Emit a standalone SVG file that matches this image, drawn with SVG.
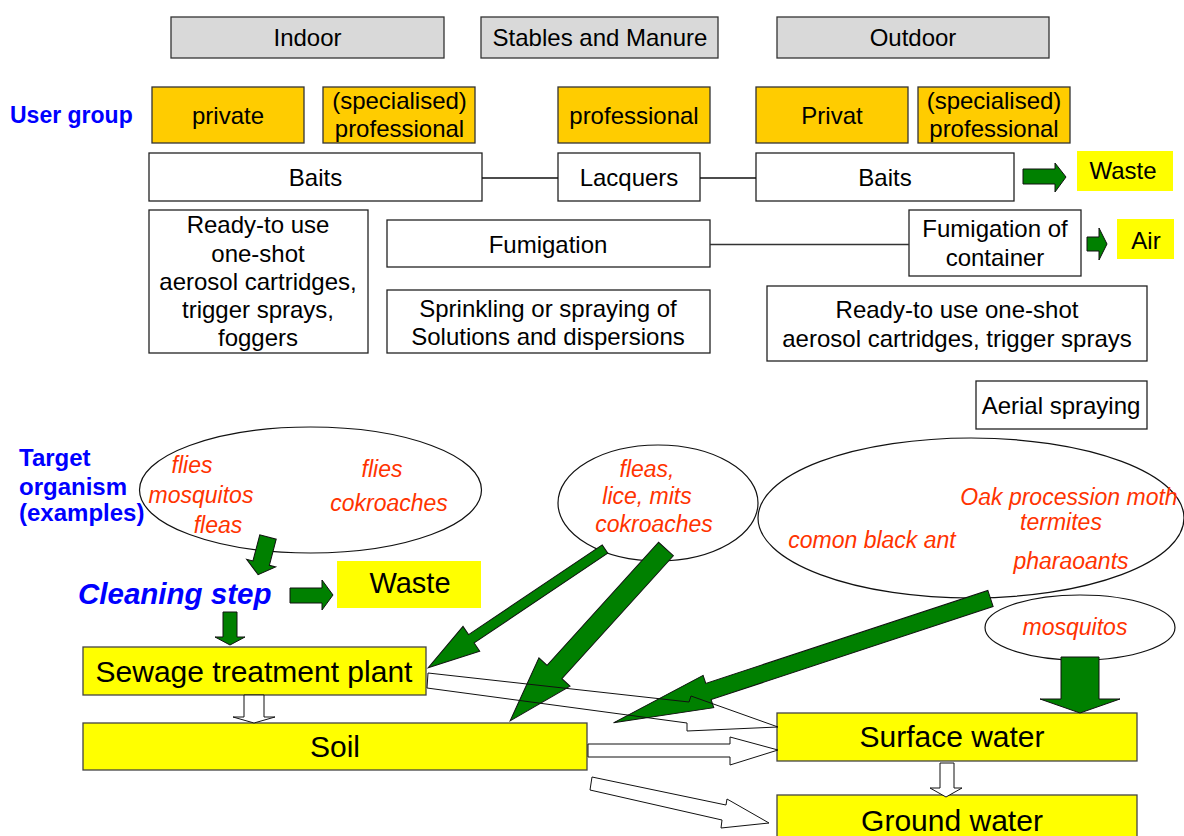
<svg xmlns="http://www.w3.org/2000/svg" width="1184" height="836" viewBox="0 0 1184 836">
<style>
text{font-family:"Liberation Sans",Arial,sans-serif;fill:#000}
.t24{font-size:24px;text-anchor:middle}
.t30{font-size:30px;text-anchor:middle}
.red{font-size:23px;font-style:italic;fill:#ff3300;text-anchor:middle}
.blue{font-size:23px;font-weight:bold;fill:#0000ff}
.gray{fill:#d9d9d9;stroke:#333;stroke-width:1.3}
.org{fill:#ffcc00;stroke:#333;stroke-width:1.3}
.wbox{fill:#fff;stroke:#222;stroke-width:1.3}
.ybox{fill:#ffff00;stroke:#444;stroke-width:1.3}
.ylab{fill:#ffff00}
.ell{fill:none;stroke:#111;stroke-width:1.2}
.garr{fill:#008000;stroke:#111;stroke-width:1}
.warr{fill:#fff;stroke:#111;stroke-width:1}
.line{stroke:#111;stroke-width:1.5;fill:none}
</style>

<!-- header -->
<g id="indoor"><rect class="gray" x="171" y="17" width="273" height="41"/><text class="t24" x="307.5" y="46">Indoor</text></g>
<g id="stables"><rect class="gray" x="481" y="17" width="237" height="41"/><text class="t24" x="600" y="46">Stables and Manure</text></g>
<g id="outdoor"><rect class="gray" x="777" y="17" width="272" height="41"/><text class="t24" x="913" y="46">Outdoor</text></g>

<g id="usergroup"><text class="blue" x="10" y="123">User group</text></g>
<g id="private"><rect class="org" x="152" y="87" width="152" height="56"/><text class="t24" x="228" y="124">private</text></g>
<g id="spec1"><rect class="org" x="323" y="87" width="152" height="56"/><text class="t24" x="399.5" y="109">(specialised)</text><text class="t24" x="399.5" y="137">professional</text></g>
<g id="prof"><rect class="org" x="558" y="87" width="152" height="56"/><text class="t24" x="634" y="124">professional</text></g>
<g id="privat"><rect class="org" x="756" y="87" width="152" height="56"/><text class="t24" x="832" y="124">Privat</text></g>
<g id="spec2"><rect class="org" x="918" y="87" width="152" height="56"/><text class="t24" x="994" y="109">(specialised)</text><text class="t24" x="994" y="137">professional</text></g>

<g id="baits1"><rect class="wbox" x="149" y="153" width="333" height="48"/><text class="t24" x="315.5" y="186">Baits</text></g>
<g id="lacquers"><rect class="wbox" x="558" y="153" width="142" height="48"/><text class="t24" x="629" y="186">Lacquers</text></g>
<g id="baits2"><rect class="wbox" x="756" y="153" width="258" height="48"/><text class="t24" x="885" y="186">Baits</text></g>
<g id="waste1"><rect class="ylab" x="1077" y="151" width="96" height="40"/><text class="t24" x="1123" y="179">Waste</text></g>

<g id="readyto1"><rect class="wbox" x="149" y="210" width="219" height="143"/>
<text class="t24" x="258" y="233">Ready-to use</text><text class="t24" x="258" y="262">one-shot</text><text class="t24" x="258" y="290">aerosol cartridges,</text><text class="t24" x="258" y="318">trigger sprays,</text><text class="t24" x="258" y="346">foggers</text></g>
<g id="fumigation"><rect class="wbox" x="387" y="220" width="323" height="47"/><text class="t24" x="548" y="253">Fumigation</text></g>
<g id="fumcontainer"><rect class="wbox" x="909" y="210" width="172" height="66"/><text class="t24" x="995" y="237">Fumigation of</text><text class="t24" x="995" y="266">container</text></g>
<g id="air"><rect class="ylab" x="1117" y="219" width="57" height="40"/><text class="t24" x="1146" y="249">Air</text></g>
<g id="sprinkling"><rect class="wbox" x="387" y="290" width="323" height="63"/><text class="t24" x="548" y="317">Sprinkling or spraying of</text><text class="t24" x="548" y="345">Solutions and dispersions</text></g>
<g id="readyto2"><rect class="wbox" x="767" y="286" width="380" height="75"/><text class="t24" x="957" y="318">Ready-to use one-shot</text><text class="t24" x="957" y="347">aerosol cartridges, trigger sprays</text></g>
<g id="aerial"><rect class="wbox" x="976" y="381" width="171" height="48"/><text class="t24" x="1061" y="414">Aerial spraying</text></g>

<!-- target organisms -->
<g id="target"><text class="blue" x="19" y="466" style="font-size:24px">Target</text><text class="blue" x="19" y="495" style="font-size:24px">organism</text><text class="blue" x="19" y="521" style="font-size:24px">(examples)</text></g>
<g id="ell1"><ellipse class="ell" cx="310.5" cy="490" rx="171" ry="63"/>
<text class="red" x="192" y="473">flies</text><text class="red" x="201" y="503">mosquitos</text><text class="red" x="218" y="533">fleas</text>
<text class="red" x="382" y="477">flies</text><text class="red" x="389" y="511">cokroaches</text></g>
<g id="ell2"><ellipse class="ell" cx="658" cy="503" rx="100" ry="58"/>
<text class="red" x="647" y="477">fleas,</text><text class="red" x="647" y="504">lice, mits</text><text class="red" x="654" y="532">cokroaches</text></g>
<g id="ell3"><ellipse class="ell" cx="971" cy="518" rx="213" ry="80"/>
<text class="red" x="1069" y="505">Oak procession moth</text><text class="red" x="1061" y="530">termites</text><text class="red" x="872" y="548">comon black ant</text><text class="red" x="1071" y="569">pharaoants</text></g>
<g id="ell4"><ellipse class="ell" cx="1080" cy="627.5" rx="95" ry="32.5"/><text class="red" x="1075" y="635">mosquitos</text></g>

<g id="cleaning"><text x="78" y="604" style="font-size:29.5px;font-weight:bold;font-style:italic;fill:#0000ff">Cleaning step</text></g>
<g id="waste2"><rect class="ylab" x="337" y="561" width="144" height="47"/><text x="410" y="593" style="font-size:29px;text-anchor:middle">Waste</text></g>

<g id="sewage"><rect class="ybox" x="83" y="647" width="343" height="48"/><text class="t30" x="254" y="682">Sewage treatment plant</text></g>
<g id="soil"><rect class="ybox" x="83" y="723" width="504" height="47"/><text class="t30" x="335" y="757">Soil</text></g>
<g id="surface"><rect class="ybox" x="777" y="713" width="360" height="48"/><text class="t30" x="952" y="747">Surface water</text></g>
<g id="ground"><rect class="ybox" x="777" y="795" width="360" height="50"/><text class="t30" x="952" y="831">Ground water</text></g>

<!-- connectors -->
<g id="connectors">
<line class="line" x1="482" y1="178" x2="558" y2="178"/>
<line class="line" x1="700" y1="178" x2="756" y2="178"/>
<line x1="710" y1="244.5" x2="909" y2="244.5" stroke="#333" stroke-width="1.3"/>

<polygon class="garr" points="1023,169 1055,169 1055,163 1066,177 1055,192 1055,184 1023,184"/>
<polygon class="garr" points="1087,237 1099,237 1099,228 1107,244 1099,260 1099,251 1087,251"/>

<polygon class="garr" transform="translate(268,537) rotate(104.7)" points="0,-8.5 27,-8.5 27,-15 39,0 27,15 27,8.5 0,8.5"/>
<polygon class="garr" points="290,588 322,588 322,580 333,595 322,610 322,603 290,603"/>
<polygon class="garr" points="223,612 237,612 237,637 245,637 230,645 215,637 223,637"/>

<polygon class="garr" transform="translate(605,549) rotate(146.1)" points="0,-5 161,-5 161,-15 213,0 161,15 161,5 0,5"/>
<polygon class="garr" transform="translate(666,549) rotate(132.2)" points="0,-10 166,-10 166,-21 232,0 166,21 166,10 0,10"/>
<polygon class="garr" transform="translate(990.5,598.5) rotate(161.75)" points="0,-8.5 297,-8.5 297,-17 397,0 297,17 297,8.5 0,8.5"/>
<polygon class="garr" points="1061,657 1099,657 1099,699 1120,699 1080,713 1040,699 1061,699"/>

<polygon class="warr" points="244,695 264,695 264,717 275,717 254,723 233,717 244,717"/>
<polygon class="warr" points="588,744 730,744 730,737 778,750 730,765 730,757 588,757"/>
<polygon class="warr" points="592,777 726,805 727,799 769,823 721,828 722,820 590,790"/>
<polygon class="warr" points="940,763 954,763 954,788 962,788 946,797 930,788 940,788"/>
<polygon points="428,673 689,702 691,696 778,727 687,731 687,723 427,688" fill="none" stroke="#111" stroke-width="1"/>
</g>
</svg>
